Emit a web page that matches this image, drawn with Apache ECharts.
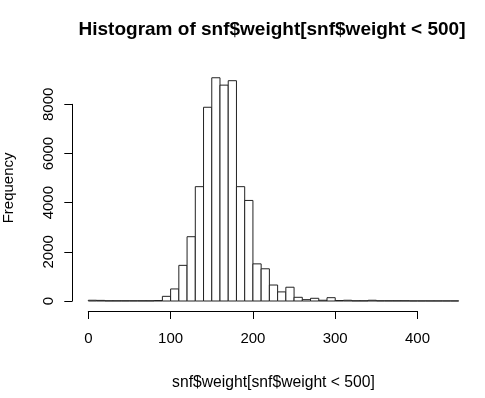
<!DOCTYPE html>
<html>
<head>
<meta charset="utf-8">
<script src="https://cdn.jsdelivr.net/npm/echarts@6/dist/echarts.min.js"></script>
<style>
  html, body { margin: 0; padding: 0; background: #fff; }
  #chart { width: 485px; height: 398px; }
</style>
</head>
<body>
<div id="chart"></div>
<script>
// bin left edges (width 10)
var binStarts = [0, 10, 20, 30, 40, 50, 60, 70, 80, 90,
  100, 110, 120, 130, 140, 150, 160, 170, 180, 190,
  200, 210, 220, 230, 240, 250, 260, 270, 280, 290,
  300, 310, 320, 330, 340, 350, 360, 370, 380, 390,
  400, 410, 420, 430, 440]
var binWidth = 10
// frequency per bin
var counts = [30, 25, 10, 10, 10, 10, 10, 10, 20, 190,
  490, 1450, 2615, 4650, 7880, 9080, 8780, 8960, 4650, 4090,
  1510, 1310, 650, 370, 560, 150, 55, 110, 30, 135,
  20, 30, 10, 10, 30, 10, 10, 10, 10, 5,
  5, 5, 5, 5, 5]
var xTicks = [0, 100, 200, 300, 400]
var yTicks = [0, 2000, 4000, 6000, 8000]

var titleText = 'Histogram of snf$weight[snf$weight < 500]'
var xName = 'snf$weight[snf$weight < 500]'
var yName = 'Frequency'

var font = 'Liberation Sans, Arial, Helvetica, sans-serif'

var data = binStarts.map(function (s, i) { return [s, counts[i]] })

var plain = function (v) { return String(v) }

var chart = echarts.init(document.getElementById('chart'), null, { renderer: 'canvas' })
chart.setOption({
  animation: false,
  backgroundColor: '#fff',
  title: {
    text: titleText,
    left: 267,
    top: 15,
    textAlign: 'center',
    textStyle: { fontFamily: font, fontWeight: 'bold', fontSize: 19, color: '#000' }
  },
  grid: [
    // plot region holding the bars
    { left: 88.3, right: 26.3, top: 74.8, bottom: 97, containLabel: false, outerBoundsMode: 'none' },
    // region spanned by the drawn axes (0-400, 0-8000)
    { left: 88.3, right: 67.5, top: 104.3, bottom: 97, containLabel: false, outerBoundsMode: 'none' }
  ],
  xAxis: [
    {
      gridIndex: 0, type: 'value', min: 0, max: 450,
      axisLine: { show: false }, axisTick: { show: false },
      axisLabel: { show: false }, splitLine: { show: false },
      name: xName, nameLocation: 'middle', nameGap: 74,
      nameTextStyle: { fontFamily: font, fontSize: 15.7, color: '#000' }
    },
    {
      gridIndex: 1, type: 'value', min: xTicks[0], max: xTicks[xTicks.length - 1], interval: 100,
      offset: 10,
      axisLine: { show: true, onZero: false, lineStyle: { color: '#000', width: 1 } },
      axisTick: { show: true, length: 8, lineStyle: { color: '#000' } },
      axisLabel: { margin: 20, fontFamily: font, fontSize: 15, color: '#000', formatter: plain },
      splitLine: { show: false }
    }
  ],
  yAxis: [
    {
      gridIndex: 0, type: 'value', min: 0, max: 9200,
      axisLine: { show: false }, axisTick: { show: false },
      axisLabel: { show: false }, splitLine: { show: false },
      name: yName, nameLocation: 'middle', nameGap: 72, nameRotate: 90,
      nameTextStyle: { fontFamily: font, fontSize: 15, color: '#000' }
    },
    {
      gridIndex: 1, type: 'value', min: yTicks[0], max: yTicks[yTicks.length - 1], interval: 2000,
      offset: 16,
      axisLine: { show: true, onZero: false, lineStyle: { color: '#000', width: 1 } },
      axisTick: { show: true, length: 8, lineStyle: { color: '#000' } },
      axisLabel: { rotate: 90, margin: 16, fontFamily: font, fontSize: 15, color: '#000', formatter: plain },
      splitLine: { show: false }
    }
  ],
  series: [{
    type: 'custom',
    xAxisIndex: 0,
    yAxisIndex: 0,
    clip: false,
    data: data,
    renderItem: function (params, api) {
      var x0 = api.value(0)
      var c = api.value(1)
      var p0 = api.coord([x0, c])
      var p1 = api.coord([x0 + binWidth, 0])
      return {
        type: 'rect',
        shape: { x: p0[0], y: p0[1], width: p1[0] - p0[0], height: p1[1] - p0[1] },
        style: { fill: '#fff', stroke: '#222', lineWidth: 1 }
      }
    }
  }]
})
</script>
</body>
</html>
